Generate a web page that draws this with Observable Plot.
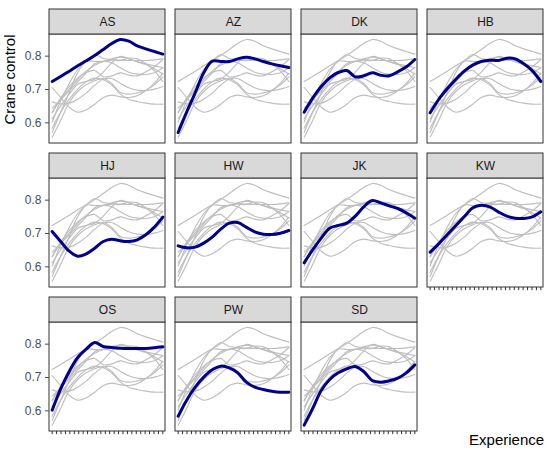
<!DOCTYPE html>
<html>
<head>
<meta charset="utf-8">
<script src="https://cdn.jsdelivr.net/npm/d3@7"></script>
<script src="https://cdn.jsdelivr.net/npm/@observablehq/plot@0.6"></script>
<style>
  html, body { margin: 0; padding: 0; background: white; }
</style>
</head>
<body>
<div id="chart"></div>
<script>
// Subjects (facet order)
const subjects = ["AS", "AZ", "DK", "HB", "HJ", "HW", "JK", "KW", "OS", "PW", "SD"];
// Experience positions where the smoothed curves were read
const experience = [1, 2.92, 4.85, 6.77, 8.69, 10.62, 12.54, 14.46, 16.38, 18.31, 20.23, 22.15, 24.08, 26];
// Tick positions on the Experience axis (unlabelled)
const sessions = [1, 2, 3, 4, 5, 6, 7, 8, 9, 10, 11, 12, 13, 14, 15, 16, 17, 18, 19, 20, 21, 22, 23, 24, 25, 26];
// Y axis ticks
const yTicks = [0.6, 0.7, 0.8];

// Smoothed crane control curves, one per subject
const AS = [0.724, 0.739, 0.755, 0.771, 0.786, 0.802, 0.820, 0.838, 0.850, 0.845, 0.831, 0.822, 0.814, 0.806];
const AZ = [0.571, 0.632, 0.690, 0.750, 0.785, 0.784, 0.784, 0.792, 0.797, 0.792, 0.784, 0.777, 0.771, 0.766];
const DK = [0.632, 0.674, 0.709, 0.735, 0.751, 0.757, 0.738, 0.741, 0.750, 0.743, 0.741, 0.753, 0.768, 0.790];
const HB = [0.630, 0.670, 0.702, 0.730, 0.755, 0.773, 0.784, 0.788, 0.787, 0.794, 0.792, 0.777, 0.756, 0.724];
const HJ = [0.706, 0.676, 0.647, 0.632, 0.639, 0.656, 0.676, 0.683, 0.678, 0.676, 0.681, 0.696, 0.719, 0.749];
const HW = [0.663, 0.657, 0.659, 0.671, 0.689, 0.713, 0.731, 0.733, 0.719, 0.705, 0.698, 0.697, 0.701, 0.709];
const JK = [0.612, 0.651, 0.686, 0.716, 0.724, 0.731, 0.752, 0.780, 0.799, 0.792, 0.783, 0.775, 0.762, 0.746];
const KW = [0.644, 0.669, 0.696, 0.723, 0.750, 0.777, 0.785, 0.780, 0.765, 0.752, 0.746, 0.745, 0.750, 0.765];
const OS = [0.602, 0.666, 0.718, 0.760, 0.785, 0.805, 0.793, 0.790, 0.788, 0.787, 0.787, 0.787, 0.789, 0.792];
const PW = [0.584, 0.632, 0.671, 0.701, 0.723, 0.734, 0.729, 0.714, 0.686, 0.671, 0.664, 0.659, 0.656, 0.656];
const SD = [0.557, 0.607, 0.661, 0.694, 0.714, 0.726, 0.733, 0.718, 0.691, 0.686, 0.690, 0.698, 0.714, 0.738];

const curves = [AS, AZ, DK, HB, HJ, HW, JK, KW, OS, PW, SD];

// Build tables
const panels = subjects.map((name, i) => ({name, col: i % 4, row: Math.floor(i / 4)}));
const rows = [];
for (const p of panels) {
  subjects.forEach((s, j) => {
    curves[j].forEach((v, k) => {
      rows.push({panel: p.name, col: p.col, row: p.row, subject: s, x: experience[k], y: v});
    });
  });
}
const greyRows = rows.filter(d => d.subject !== d.panel);
const hiRows = rows.filter(d => d.subject === d.panel);

// x ticks drawn under the lowest panel of each column
const bottomPanels = panels.filter(p => !panels.some(q => q.col === p.col && q.row === p.row + 1));
const tickRows = bottomPanels.flatMap(p => sessions.map(s => ({col: p.col, row: p.row, x: s})));

const Y0 = 0.538, YTOP = 0.865, YSTRIP = 0.940;
const TICK = 0.0095; // ~3px in y units

const chart = Plot.plot({
  width: 550,
  height: 460,
  marginLeft: 48.3,
  marginRight: 5.8,
  marginTop: 7.3,
  marginBottom: 27.3,
  style: {fontFamily: "'Liberation Sans', Arial, Helvetica, sans-serif", background: "white", overflow: "visible"},
  fx: {domain: [0, 1, 2, 3], axis: null, paddingInner: 0.077, paddingOuter: 0},
  fy: {domain: [0, 1, 2], axis: null, paddingInner: 0.066, paddingOuter: 0},
  x: {domain: [0.4, 26.6], axis: null},
  y: {domain: [Y0, YSTRIP]},
  marks: [
    // panel background + border
    Plot.rect(panels, {fx: "col", fy: "row", y1: Y0, y2: YTOP, fill: "white", stroke: "#333333", strokeWidth: 1}),
    // strip
    Plot.rect(panels, {fx: "col", fy: "row", y1: YTOP, y2: YSTRIP, fill: "#d9d9d9", stroke: "#333333", strokeWidth: 1}),
    Plot.text(panels, {fx: "col", fy: "row", y: (YTOP + YSTRIP) / 2, text: "name", frameAnchor: "middle", fontSize: 12, fill: "#1a1a1a"}),
    // all subjects in grey
    Plot.line(greyRows, {fx: "col", fy: "row", x: "x", y: "y", z: "subject", stroke: "#bebebe", strokeWidth: 1.15, curve: "catmull-rom"}),
    // highlighted subject
    Plot.line(hiRows, {fx: "col", fy: "row", x: "x", y: "y", z: "subject", stroke: "#00008b", strokeWidth: 3, curve: "catmull-rom"}),
    // axes
    Plot.axisY({ticks: yTicks, tickFormat: ".1f", tickSize: 4, tickPadding: 4, fontSize: 12, color: "#4d4d4d", label: null}),
    Plot.ruleX(tickRows, {fx: "col", fy: "row", x: "x", y1: Y0, y2: Y0 - TICK, stroke: "#333333", strokeWidth: 1}),
    // axis titles
    Plot.text([{t: "Crane control", col: 0, row: 0}], {fx: "col", fy: "row", y: YTOP, text: "t", frameAnchor: "left", rotate: -90, textAnchor: "end", dx: -39, fontSize: 15, fill: "black"}),
    Plot.text([{t: "Experience", col: 2, row: 2}], {fx: "col", fy: "row", text: "t", frameAnchor: "bottom-right", textAnchor: "end", dx: 126.6, dy: 13.5, fontSize: 15, fill: "black"})
  ]
});
document.getElementById("chart").appendChild(chart);
</script>
</body>
</html>
